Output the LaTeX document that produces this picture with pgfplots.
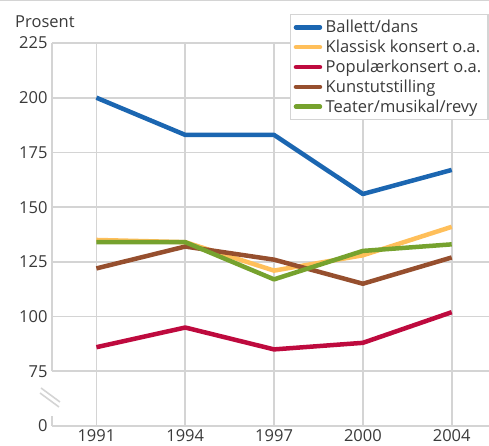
\documentclass[border=0pt]{standalone}
\usepackage{pgfplots}
\pgfplotsset{compat=1.18}
\usepackage{fontspec}
\setmainfont{Open Sans}
\definecolor{txt}{HTML}{3A3A3A}
\definecolor{gridc}{HTML}{D4D4D4}
\definecolor{cblue}{HTML}{1B66B1}
\definecolor{cyellow}{HTML}{FFBF5A}
\definecolor{cred}{HTML}{BE0A3E}
\definecolor{cbrown}{HTML}{964F2E}
\definecolor{cgreen}{HTML}{76A22E}
\begin{document}
\begin{tikzpicture}
\path[use as bounding box] (-52pt,-20pt) rectangle (437pt,426pt);
\draw[gridc, line width=1pt] (-52pt,425.5pt) -- (437pt,425.5pt);
\begin{axis}[
  scale only axis,
  width=437pt, height=383pt,
  xmin=-0.5, xmax=4.42,
  ymin=50, ymax=225,
  xtick={0,1,2,3,4},
  xticklabels={1991,1994,1997,2000,2004},
  ytick={50,75,100,125,150,175,200,225},
  yticklabels={0,75,100,125,150,175,200,225},
  major tick length=0pt,
  axis line style={draw=none},
  grid=major,
  major grid style={gridc, line width=1.6pt},
  tick label style={font=\fontsize{16.5}{19}\selectfont, text=txt},
  /pgf/number format/assume math mode=true,
  yticklabel style={xshift=-1pt},
  xticklabel style={yshift=0pt},
  clip=false,
  legend style={at={(0.5446,1.0757)}, anchor=north west, draw=gridc, line width=1.5pt,
    font=\fontsize{16.5}{19}\selectfont, text=txt, inner xsep=3pt, inner ysep=4pt,
    row sep=2.6pt, fill=white,
    nodes={inner ysep=1.6pt, inner xsep=3.5pt}},
  legend cell align=left,
  legend image code/.code={\draw[#1, line width=4.5pt, line cap=round] (0pt,0pt) -- (24pt,0pt);},
  every axis plot/.append style={line width=4.5pt, line join=round},
]
\addplot[cblue] coordinates {(0,200) (1,183) (2,183) (3,156) (4,167)};
\addlegendentry{Ballett/dans}
\addplot[cyellow] coordinates {(0,135) (1,134) (2,121) (3,128) (4,141)};
\addlegendentry{Klassisk konsert o.a.}
\addplot[cred] coordinates {(0,86) (1,95) (2,85) (3,88) (4,102)};
\addlegendentry{Populærkonsert o.a.}
\addplot[cbrown] coordinates {(0,122) (1,132) (2,126) (3,115) (4,127)};
\addlegendentry{Kunstutstilling}
\addplot[cgreen] coordinates {(0,134) (1,134) (2,117) (3,130) (4,133)};
\addlegendentry{Teater/musikal/revy}
\draw[gridc, line width=1.6pt] (axis cs:-0.5,75) -- (axis cs:-0.5,225);
\draw[gridc, line width=1.6pt] (axis cs:-0.5,50) -- (axis cs:-0.5,54.5);
\end{axis}
\draw[gridc, line width=1.6pt] (-11pt,38pt) -- (8pt,24pt);
\draw[gridc, line width=1.6pt] (-12pt,33pt) -- (7pt,19pt);
\node[anchor=base west, text=txt, font=\fontsize{16.5}{19}\selectfont, inner sep=0pt] at (-37pt,398pt) {Prosent};
\end{tikzpicture}
\end{document}
